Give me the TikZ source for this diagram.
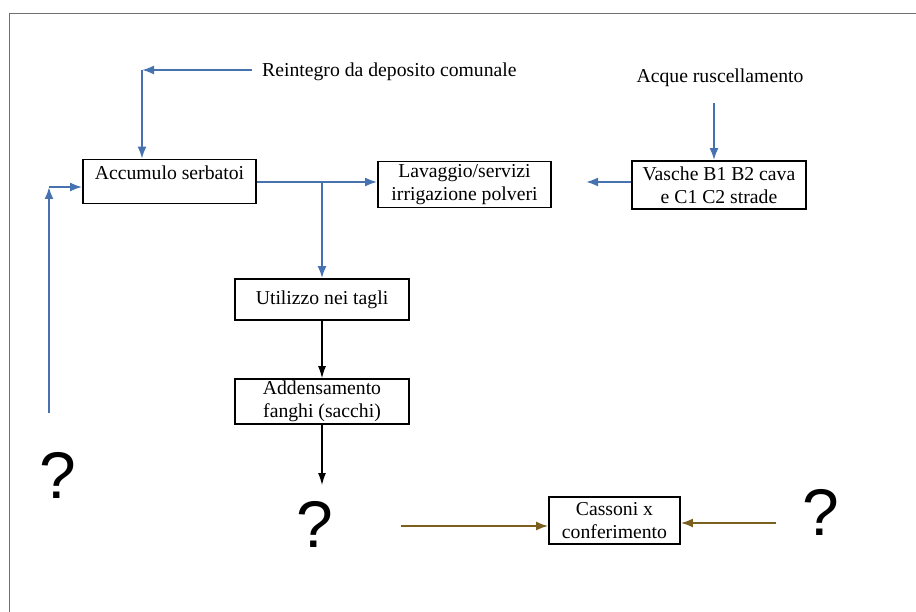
\documentclass[tikz,border=0pt]{standalone}
\usepackage{fontspec}
\setmainfont{Liberation Serif}
\newfontfamily\qfont{Liberation Sans}
\usetikzlibrary{arrows.meta}
\definecolor{flowblue}{HTML}{4672B0}
\definecolor{flowbrown}{HTML}{7A5F1E}
\definecolor{framegray}{HTML}{707070}
\tikzset{
  box/.style={draw=black, line width=1.8pt, rectangle, inner sep=0pt, align=center,
    font=\fontsize{19.7}{23}\selectfont},
  plain/.style={inner sep=0pt, font=\fontsize{19.7}{23}\selectfont},
  qmark/.style={inner sep=0pt, font=\qfont\fontsize{66}{70}\selectfont},
  bluearrow/.style={draw=flowblue, line width=2pt, -{Latex[length=12pt,width=9pt]}},
  blackarrow/.style={draw=black, line width=1.2pt, -{Latex[length=12pt,width=8pt]}},
  brownarrow/.style={draw=flowbrown, line width=1.8pt, -{Latex[length=12pt,width=9pt]}},
}
\begin{document}
\begin{tikzpicture}[x=1pt, y=-1pt]
\useasboundingbox (0,0) rectangle (916,612);
% frame
\draw[framegray, line width=1pt] (9,612) -- (9,14) -- (916,14);

% nodes
\node[box, minimum width=173pt, minimum height=44pt] (acc) at (169.5,181.5) {Accumulo serbatoi\\[-5pt] \mbox{}};
\node[box, minimum width=173pt, minimum height=46pt] (lav) at (464.5,184.5) {Lavaggio/servizi\\irrigazione polveri};
\node[box, minimum width=174pt, minimum height=48pt] (vas) at (719,185) {Vasche B1 B2 cava\\e C1 C2 strade};
\node[box, minimum width=174pt, minimum height=41pt] (utl) at (322,299.5) {Utilizzo nei tagli};
\node[box, minimum width=174pt, minimum height=45pt] (add) at (322,401.5) {Addensamento\\fanghi (sacchi)};
\node[box, minimum width=131pt, minimum height=47pt] (cas) at (614.5,520.5) {Cassoni x\\conferimento};

\node[plain, anchor=west] (rein) at (262,72) {Reintegro da deposito comunale};
\node[plain] (acque) at (720,78) {Acque ruscellamento};

\node[qmark] (q1) at (58,475) {?};
\node[qmark] (q2) at (315,524) {?};
\node[qmark] (q3) at (821,512) {?};

% coordinates
\coordinate (r0) at (252,70);
\coordinate (r1) at (142,70);
\coordinate (l0) at (49,413);
\coordinate (l1) at (49,187);
\coordinate (v1) at (586,182);
\coordinate (a0) at (714,103);
\coordinate (d1) at (322,485);
\coordinate (c0) at (401,526);
\coordinate (c1) at (776,523);

% blue connectors
\draw[bluearrow] (r0) -- (r1);
\draw[bluearrow] (r1) -- (r1 |- acc.north);
\draw[bluearrow] (l0) -- (l1);
\draw[bluearrow] (l1) -- (l1 -| acc.west);
\draw[bluearrow] (acc.east |- 0,182) -- (lav.west |- 0,182);
\coordinate (br) at (utl.north |- 0,182);
\draw[bluearrow] (br) -- (utl.north);
\draw[bluearrow] (vas.west |- v1) -- (v1);
\draw[bluearrow] (a0) -- (a0 |- vas.north);

% black connectors
\draw[blackarrow] (utl.south) -- (add.north);
\draw[blackarrow] (add.south) -- (d1);

% brown connectors
\draw[brownarrow] (c0) -- (c0 -| cas.west);
\draw[brownarrow] (c1) -- (c1 -| cas.east);
\end{tikzpicture}
\end{document}
